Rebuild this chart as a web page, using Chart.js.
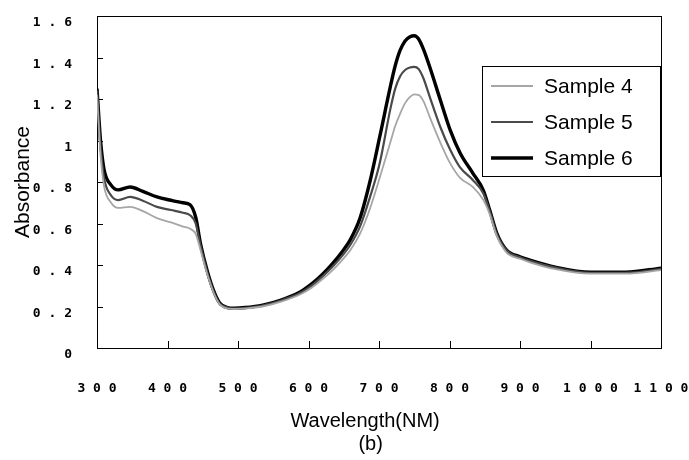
<!DOCTYPE html>
<html>
<head>
<meta charset="utf-8">
<script src="https://cdn.jsdelivr.net/npm/chart.js@4/dist/chart.umd.min.js"></script>
<style>
  html, body { margin: 0; padding: 0; background: #fff; }
  #wrap { width: 689px; height: 460px; position: relative; }
</style>
</head>
<body>
<div id="wrap"><canvas id="c" width="689" height="460"></canvas></div>
<script>
// ---- data ----
const wavelengths = [300,305,310,320,330,347,365,385,405,422,432,440,447,456,465,474,485,495,510,535,560,588,605,620,635,648,659,673,687,701,716,723,730,737,744,750,756,763,772,787,801,815,833,848,857,867,881,900,914,950,1000,1050,1100];
const sample4 = [1.22,0.93,0.78,0.700,0.675,0.680,0.660,0.626,0.605,0.585,0.575,0.550,0.470,0.360,0.270,0.210,0.190,0.188,0.190,0.200,0.222,0.258,0.292,0.332,0.378,0.425,0.470,0.550,0.670,0.820,0.990,1.070,1.130,1.180,1.210,1.222,1.220,1.190,1.113,0.990,0.890,0.820,0.776,0.713,0.645,0.540,0.460,0.430,0.413,0.380,0.358,0.358,0.375];
const sample5 = [1.24,0.97,0.82,0.735,0.713,0.728,0.710,0.680,0.665,0.652,0.640,0.600,0.490,0.370,0.275,0.215,0.195,0.190,0.193,0.205,0.228,0.265,0.302,0.345,0.395,0.445,0.495,0.585,0.725,0.890,1.150,1.250,1.310,1.340,1.352,1.355,1.345,1.300,1.210,1.065,0.955,0.870,0.810,0.745,0.660,0.550,0.470,0.437,0.420,0.387,0.362,0.362,0.380];
const sample6 = [1.25,1.00,0.86,0.785,0.762,0.776,0.755,0.728,0.712,0.700,0.690,0.630,0.500,0.376,0.280,0.217,0.195,0.192,0.195,0.207,0.230,0.270,0.310,0.355,0.410,0.465,0.520,0.625,0.800,1.017,1.258,1.360,1.435,1.480,1.500,1.505,1.490,1.440,1.354,1.195,1.050,0.940,0.843,0.760,0.665,0.554,0.472,0.440,0.424,0.390,0.365,0.365,0.385];
const seriesNames = ['Sample 4','Sample 5','Sample 6'];
const xTickLabels = ['300','400','500','600','700','800','900','1000','1100'];
const yTickLabels = ['0','0.2','0.4','0.6','0.8','1','1.2','1.4','1.6'];
const xTitle = ['Wavelength(NM)', '(b)'];
const yTitle = 'Absorbance';

const toPts = arr => arr.map((v, i) => ({ x: wavelengths[i], y: v }));
const spaced = s => s.split('').join(' ');

const frameAndTicks = {
  id: 'frameAndTicks',
  beforeDatasetsDraw(chart) {
    const { ctx, chartArea: a, scales } = chart;
    ctx.save();
    ctx.strokeStyle = '#000';
    ctx.lineWidth = 1;
    ctx.strokeRect(Math.round(a.left) + 0.5, Math.round(a.top) + 0.5, Math.round(a.right - a.left), Math.round(a.bottom - a.top));
    ctx.beginPath();
    scales.y.ticks.forEach(t => {
      const y = Math.round(scales.y.getPixelForValue(t.value)) + 0.5;
      ctx.moveTo(a.left, y); ctx.lineTo(a.left + 6, y);
    });
    scales.x.ticks.forEach(t => {
      const x = Math.round(scales.x.getPixelForValue(t.value)) + 0.5;
      ctx.moveTo(x, a.bottom); ctx.lineTo(x, a.bottom - 7);
    });
    ctx.stroke();
    ctx.restore();
  }
};

const boxLegend = {
  id: 'boxLegend',
  afterDraw(chart) {
    const { ctx } = chart;
    const L = 482.5, T = 66.5, W = 178, H = 110;
    ctx.save();
    ctx.fillStyle = '#fff';
    ctx.fillRect(L, T, W, H);
    ctx.strokeStyle = '#000';
    ctx.lineWidth = 1;
    ctx.strokeRect(L, T, W, H);
    const rows = [86, 122, 158];
    ctx.font = '21px "Liberation Sans", Arial, sans-serif';
    ctx.textBaseline = 'middle';
    ctx.textAlign = 'left';
    chart.data.datasets.forEach((ds, i) => {
      ctx.beginPath();
      ctx.strokeStyle = ds.borderColor;
      ctx.lineWidth = ds.borderWidth;
      ctx.moveTo(491, rows[i]); ctx.lineTo(533, rows[i]);
      ctx.stroke();
      ctx.fillStyle = '#000';
      ctx.fillText(ds.label, 544, rows[i] + 1);
    });
    ctx.restore();
  }
};

new Chart(document.getElementById('c'), {
  type: 'line',
  data: {
    datasets: [
      { label: seriesNames[0], data: toPts(sample4), borderColor: '#a6a6a6', borderWidth: 1.8 },
      { label: seriesNames[1], data: toPts(sample5), borderColor: '#4a4a4a', borderWidth: 2.2 },
      { label: seriesNames[2], data: toPts(sample6), borderColor: '#000000', borderWidth: 3.4 }
    ]
  },
  options: {
    responsive: false,
    animation: false,
    devicePixelRatio: 1,
    layout: { padding: 0 },
    elements: {
      point: { radius: 0 },
      line: { cubicInterpolationMode: 'monotone', fill: false }
    },
    plugins: { legend: { display: false }, tooltip: { enabled: false } },
    scales: {
      x: {
        type: 'linear', min: 300, max: 1100,
        grid: { display: false, drawTicks: false },
        border: { display: false },
        afterFit: s => { s.height = 112; s.paddingLeft = 0; s.paddingRight = 28; },
        ticks: {
          stepSize: 100, padding: 33, color: '#000', maxRotation: 0, autoSkip: false,
          font: { family: '"DejaVu Sans Mono", monospace', size: 13, weight: 'bold' },
          callback: (v, i) => spaced(xTickLabels[i])
        },
        title: {
          display: true, text: [xTitle[0] + '     ', xTitle[1] + '   '], color: '#000',
          font: { family: '"Liberation Sans", Arial, sans-serif', size: 20, lineHeight: 1.15 },
          padding: { top: 0, bottom: 4 }
        }
      },
      y: {
        min: 0, max: 1.6,
        grid: { display: false, drawTicks: false },
        border: { display: false },
        afterFit: s => { s.width = 97; s.paddingTop = 16; s.paddingBottom = 0; },
        ticks: {
          stepSize: 0.2, padding: 25, color: '#000', labelOffset: 7,
          font: { family: '"DejaVu Sans Mono", monospace', size: 13, weight: 'bold' },
          callback: (v, i) => spaced(yTickLabels[i])
        },
        title: {
          display: true, text: yTitle, color: '#000',
          font: { family: '"Liberation Sans", Arial, sans-serif', size: 21, lineHeight: 1.1 },
          padding: { top: 12, bottom: 0 }
        }
      }
    }
  },
  plugins: [frameAndTicks, boxLegend]
});
</script>
</body>
</html>
